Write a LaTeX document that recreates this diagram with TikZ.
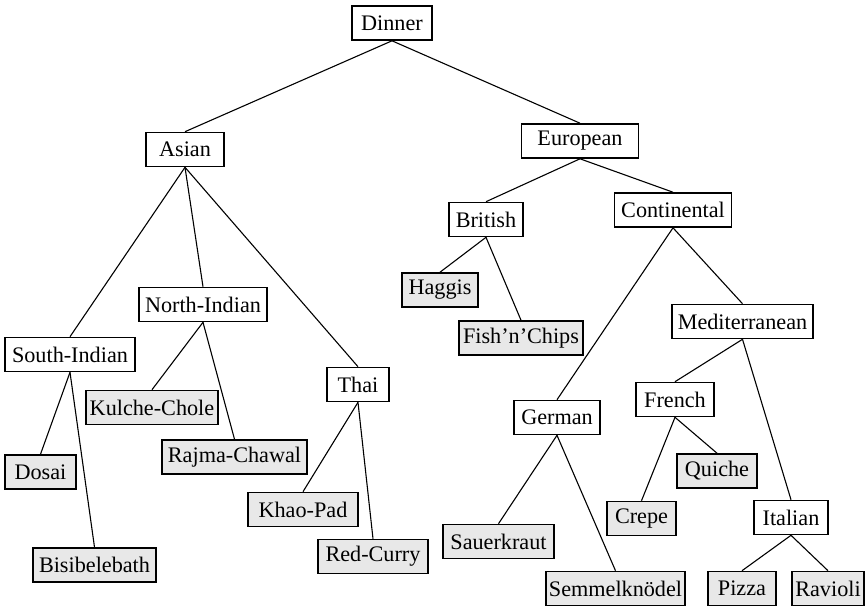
\documentclass[tikz,border=0pt]{standalone}
\usepackage{fontspec}
\setmainfont{Liberation Serif}
\begin{document}
\begin{tikzpicture}[x=0.5pt,y=-0.5pt,
  box/.style={draw=black,line width=0.8pt,fill=white,minimum height=17pt,inner sep=0pt,font=\fontsize{11.1}{13}\selectfont},
  leaf/.style={box,fill=black!9},
  link/.style={draw=black,line width=0.55pt}]
\useasboundingbox (0,0) rectangle (868,606);
\node[box,minimum width=40pt] (dinner) at (392,23) {Dinner};
\node[box,minimum width=39pt] (asian) at (185,149.5) {Asian};
\node[box,minimum width=58.5pt] (euro) at (580,141) {European};
\node[box,minimum width=37pt] (brit) at (486,219.5) {British};
\node[box,minimum width=58.5pt] (cont) at (673,210) {Continental};
\node[leaf,minimum width=38pt] (haggis) at (440,290) {Haggis};
\node[box,minimum width=64pt] (north) at (203,304.5) {North-Indian};
\node[box,minimum width=65pt] (south) at (70,354.5) {South-Indian};
\node[leaf,minimum width=66pt] (kulche) at (152,407.5) {Kulche-Chole};
\node[leaf,minimum width=72.5pt] (rajma) at (234.5,457) {Rajma-Chawal};
\node[box,minimum width=31pt] (thai) at (358,384.5) {Thai};
\node[leaf,minimum width=35.5pt] (dosai) at (40.5,472) {Dosai};
\node[leaf,minimum width=55pt] (khao) at (303,509.5) {Khao-Pad};
\node[leaf,minimum width=55pt] (red) at (373,556.5) {Red-Curry};
\node[leaf,minimum width=61.5pt] (bisi) at (94.5,565) {Bisibelebath};
\node[leaf,minimum width=62pt] (fish) at (521,338) {Fish’n’Chips};
\node[box,minimum width=70.5pt] (med) at (742.5,321.5) {Mediterranean};
\node[box,minimum width=43pt] (german) at (557,417.5) {German};
\node[box,minimum width=39pt] (french) at (675,399.5) {French};
\node[leaf,minimum width=40pt] (quiche) at (717,471) {Quiche};
\node[leaf,minimum width=34.5pt] (crepe) at (641.5,518.5) {Crepe};
\node[box,minimum width=37pt] (italian) at (791,517.5) {Italian};
\node[leaf,minimum width=55.5pt] (sauer) at (498.5,541.5) {Sauerkraut};
\node[leaf,minimum width=69.5pt] (semmel) at (615.5,588.5) {Semmelknödel};
\node[leaf,minimum width=34pt] (pizza) at (742,588.5) {Pizza};
\node[leaf,minimum width=36pt] (ravioli) at (828,588.5) {Ravioli};
\foreach \p/\c in {dinner/asian,dinner/euro,asian/south,asian/north,asian/thai,
  south/dosai,south/bisi,north/kulche,north/rajma,thai/khao,thai/red,
  euro/brit,euro/cont,brit/haggis,brit/fish,cont/german,cont/med,
  german/sauer,german/semmel,med/french,med/italian,french/crepe,french/quiche,
  italian/pizza,italian/ravioli}
  \draw[link] (\p.south) -- (\c.north);
\end{tikzpicture}
\end{document}
